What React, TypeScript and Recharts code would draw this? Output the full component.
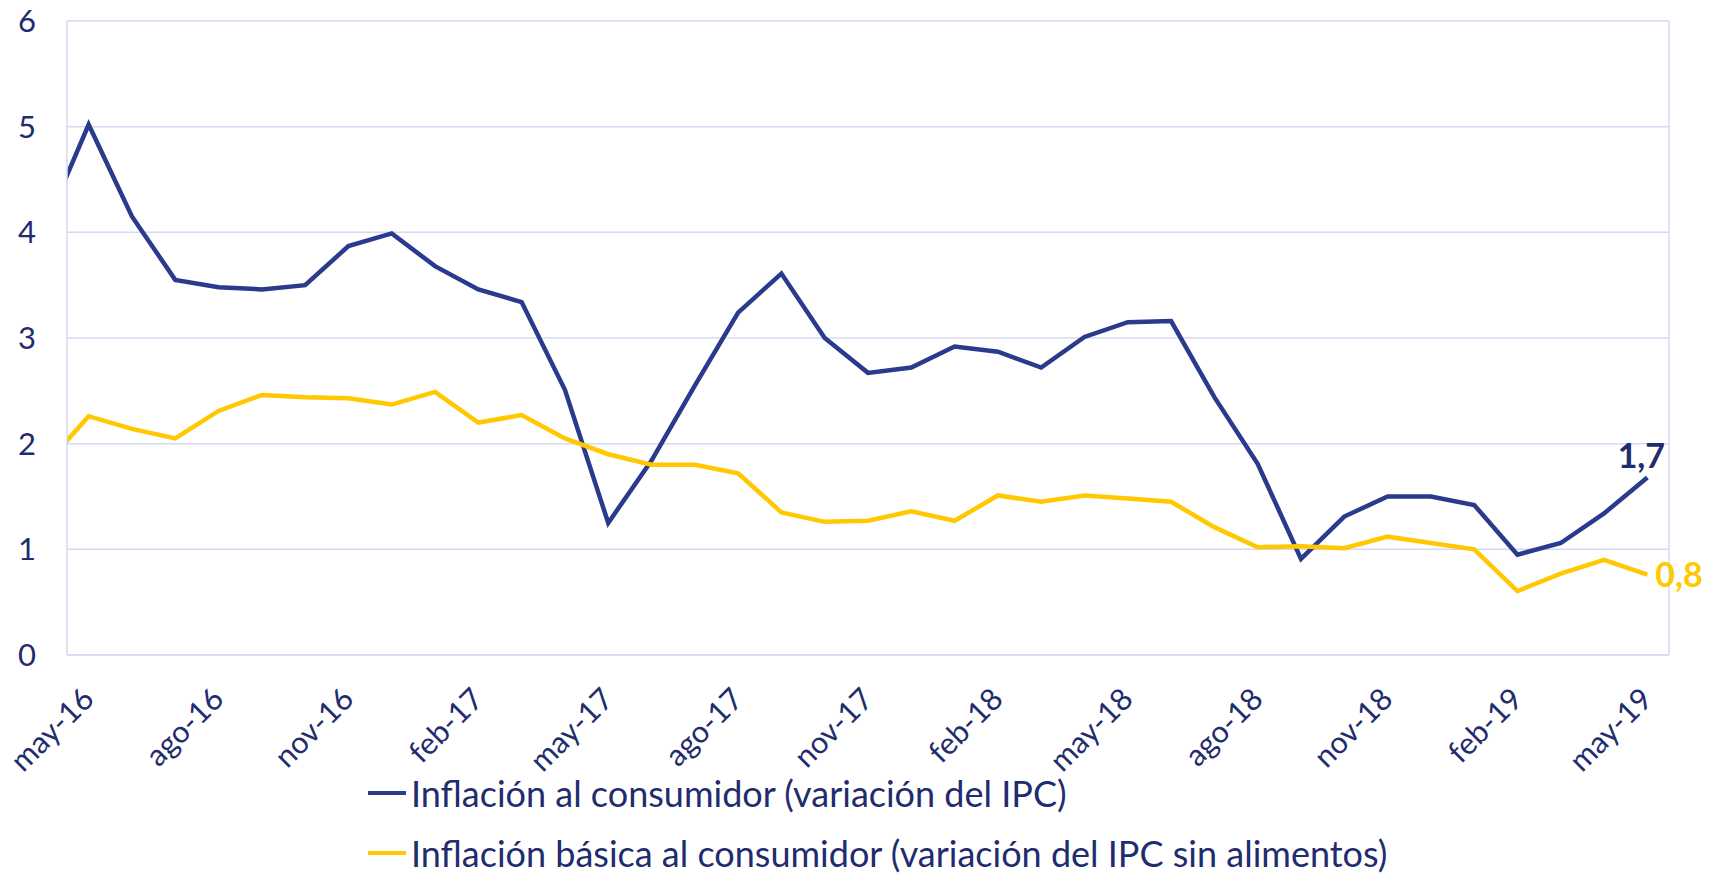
import React from "react";
import { LineChart, Line, XAxis, YAxis, CartesianGrid, ReferenceLine, Legend } from "recharts";

// Months (index 0 = abr-16, only partly visible at the left edge)
const months = [
  "abr-16", "may-16", "jun-16", "jul-16", "ago-16", "sep-16", "oct-16", "nov-16", "dic-16",
  "ene-17", "feb-17", "mar-17", "abr-17", "may-17", "jun-17", "jul-17", "ago-17", "sep-17", "oct-17", "nov-17", "dic-17",
  "ene-18", "feb-18", "mar-18", "abr-18", "may-18", "jun-18", "jul-18", "ago-18", "sep-18", "oct-18", "nov-18", "dic-18",
  "ene-19", "feb-19", "mar-19", "abr-19", "may-19",
];

const ipc = [
  4.06, 5.02, 4.15, 3.55, 3.48, 3.46, 3.5, 3.87, 3.99,
  3.68, 3.46, 3.34, 2.51, 1.25, 1.84, 2.55, 3.24, 3.61, 3.0, 2.67, 2.72,
  2.92, 2.87, 2.72, 3.01, 3.15, 3.16, 2.44, 1.81, 0.91, 1.31, 1.5, 1.5,
  1.42, 0.95, 1.06, 1.34, 1.68,
];

const ipcSinAlimentos = [
  1.8, 2.26, 2.14, 2.05, 2.31, 2.46, 2.44, 2.43, 2.37,
  2.49, 2.2, 2.27, 2.05, 1.9, 1.8, 1.8, 1.72, 1.35, 1.26, 1.27, 1.36,
  1.27, 1.51, 1.45, 1.51, 1.48, 1.45, 1.21, 1.02, 1.03, 1.01, 1.12, 1.06,
  1.0, 0.605, 0.77, 0.9, 0.76,
];

const tickLabels = ["may-16", "ago-16", "nov-16", "feb-17", "may-17", "ago-17", "nov-17", "feb-18", "may-18", "ago-18", "nov-18", "feb-19", "may-19"];
const yTicks = [0, 1, 2, 3, 4, 5, 6];
const endLabels = ["1,7", "0,8"];
const seriesNames = [
  "Inflación al consumidor (variación del IPC)",
  "Inflación básica al consumidor (variación del IPC sin alimentos)",
];

const data = months.map((m, i) => ({ idx: i, month: m, ipc: ipc[i], basica: ipcSinAlimentos[i] }));
const xTickValues = tickLabels.map((t) => months.indexOf(t));

const BLUE = "#2A3A8C";
const YELLOW = "#FFC800";
const TEXT = "#1F2C6E";
const GRID = "#D3DAF3";
const FONT = "Lato, 'Open Sans', sans-serif";
const last = months.length - 1;

const XTick = (props: any) => {
  const { x, y, payload } = props;
  return (
    <g transform={`translate(${x + 7},${y + 46})`}>
      <text x={0} y={0} transform="rotate(-45)" textAnchor="end" fill={TEXT} fontSize={30.5} fontFamily={FONT}>
        {months[payload.value]}
      </text>
    </g>
  );
};

const YTick = (props: any) => {
  const { y, payload } = props;
  return (
    <text x={36} y={y} dy="0.36em" textAnchor="end" fill={TEXT} fontSize={31} fontFamily={FONT}>
      {payload.value}
    </text>
  );
};

const BlueEnd = (props: any) => {
  const { x, y, index } = props;
  if (index !== last) return null;
  return (
    <text x={x - 6} y={y - 9} textAnchor="middle" fill={TEXT} fontSize={34} fontWeight={700} fontFamily={FONT}>
      {endLabels[0]}
    </text>
  );
};

const YellowEnd = (props: any) => {
  const { x, y, index } = props;
  if (index !== last) return null;
  return (
    <text x={x + 8} y={y} dy="0.36em" textAnchor="start" fill={YELLOW} fontSize={34} fontWeight={700} fontFamily={FONT}>
      {endLabels[1]}
    </text>
  );
};

const LegendContent = () => {
  const rows = [
    { name: seriesNames[0], color: BLUE, top: 10 },
    { name: seriesNames[1], color: YELLOW, top: 70 },
  ];
  return (
    <div style={{ position: "relative", width: 1711, height: 110 }}>
      {rows.map((r) => (
        <div
          key={r.name}
          style={{
            position: "absolute",
            left: 368,
            top: r.top,
            height: 40,
            lineHeight: "40px",
            display: "flex",
            alignItems: "center",
            whiteSpace: "nowrap",
            fontFamily: FONT,
            fontSize: 36,
            color: TEXT,
          }}
        >
          <span style={{ display: "inline-block", width: 38, height: 4, background: r.color, marginRight: 5 }} />
          <span>{r.name}</span>
        </div>
      ))}
    </div>
  );
};

export default function App() {
  return (
    <div style={{ position: "absolute", left: 0, top: 0, width: 1711, height: 873, background: "#fff" }}>
      <LineChart width={1711} height={873} data={data} margin={{ top: 21, right: 42, bottom: 0, left: 0 }}>
        <CartesianGrid vertical={false} stroke={GRID} strokeWidth={1.5} />
        <XAxis
          dataKey="idx"
          type="number"
          domain={[0.5, last + 0.5]}
          allowDataOverflow
          ticks={xTickValues}
          tick={<XTick />}
          tickLine={false}
          tickSize={0}
          tickMargin={0}
          axisLine={{ stroke: GRID, strokeWidth: 1.5 }}
          height={108}
          interval={0}
        />
        <YAxis
          domain={[0, 6]}
          ticks={yTicks}
          tick={<YTick />}
          tickLine={false}
          axisLine={{ stroke: GRID, strokeWidth: 1.5 }}
          width={67}
        />
        <ReferenceLine x={last + 0.5} stroke={GRID} strokeWidth={1.5} />
        <Legend verticalAlign="bottom" height={110} wrapperStyle={{ left: 0, width: 1711 }} content={<LegendContent />} />
        <Line
          type="linear"
          dataKey="ipc"
          name={seriesNames[0]}
          stroke={BLUE}
          strokeWidth={4.5}
          dot={false}
          isAnimationActive={false}
          label={<BlueEnd />}
        />
        <Line
          type="linear"
          dataKey="basica"
          name={seriesNames[1]}
          stroke={YELLOW}
          strokeWidth={4.5}
          dot={false}
          isAnimationActive={false}
          label={<YellowEnd />}
        />
      </LineChart>
    </div>
  );
}
